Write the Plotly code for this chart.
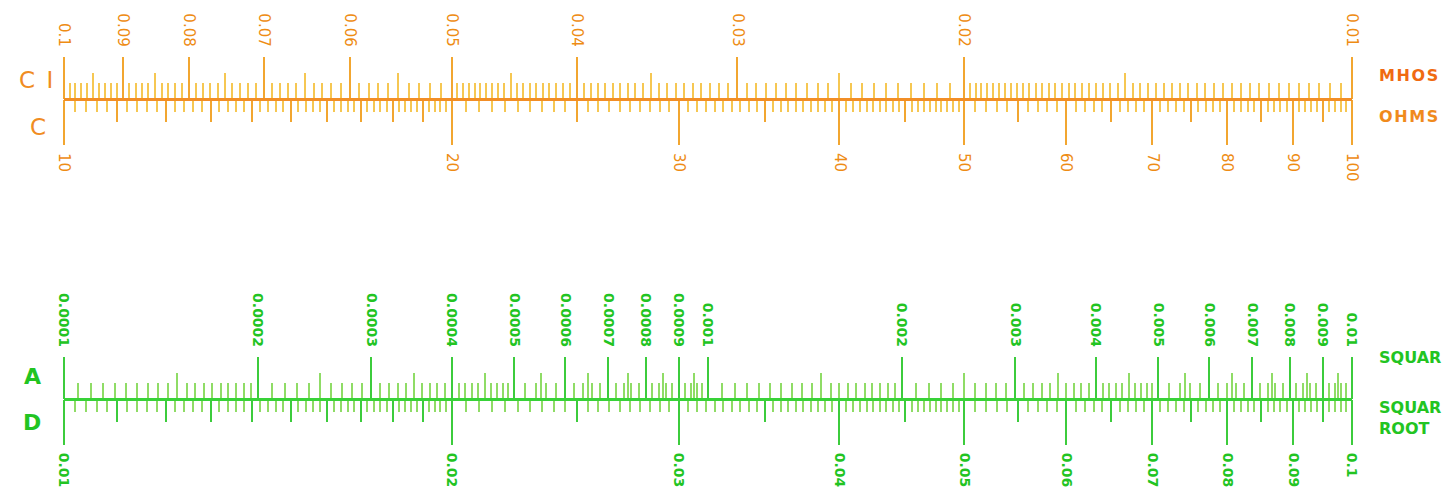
import numpy as np
import plotly.graph_objects as go

# scale labels (values written on the rule)
ci_vals = [0.1, 0.09, 0.08, 0.07, 0.06, 0.05, 0.04, 0.03, 0.02, 0.01]
ci_text = ["0.1", "0.09", "0.08", "0.07", "0.06", "0.05", "0.04", "0.03", "0.02", "0.01"]
c_vals = [10, 20, 30, 40, 50, 60, 70, 80, 90, 100]
c_text = ["10", "20", "30", "40", "50", "60", "70", "80", "90", "100"]
a_vals = [0.0001, 0.0002, 0.0003, 0.0004, 0.0005, 0.0006, 0.0007, 0.0008, 0.0009,
          0.001, 0.002, 0.003, 0.004, 0.005, 0.006, 0.007, 0.008, 0.009, 0.01]
a_text = ["0.0001", "0.0002", "0.0003", "0.0004", "0.0005", "0.0006", "0.0007", "0.0008", "0.0009",
          "0.001", "0.002", "0.003", "0.004", "0.005", "0.006", "0.007", "0.008", "0.009", "0.01"]
d_vals = [0.01, 0.02, 0.03, 0.04, 0.05, 0.06, 0.07, 0.08, 0.09, 0.1]
d_text = ["0.01", "0.02", "0.03", "0.04", "0.05", "0.06", "0.07", "0.08", "0.09", "0.1"]

# graduation steps: (from, to, step) on each scale
c_mid = [(10, 20, 1), (10, 100, 5)]
c_minor = [(10, 20, 0.2), (20, 50, 0.5), (50, 100, 1)]
ci_mid = [(0.1, 0.01, 0.005)]
ci_minor = [(0.1, 0.05, 0.001), (0.05, 0.02, 0.0005), (0.02, 0.01, 0.0002)]
a_mid = [(0.0001, 0.001, 0.00005), (0.001, 0.01, 0.0005)]
a_minor = [(0.0001, 0.0002, 0.000005), (0.0002, 0.0005, 0.00001), (0.0005, 0.001, 0.00002),
           (0.001, 0.002, 0.00005), (0.002, 0.005, 0.0001), (0.005, 0.01, 0.0002)]
d_mid = [(0.01, 0.02, 0.001), (0.01, 0.1, 0.005)]
d_minor = [(0.01, 0.02, 0.0002), (0.02, 0.05, 0.0005), (0.05, 0.1, 0.001)]

# page body has an 8px margin, so the figure is a bit smaller than the window
OFF = 8
W, H = 1440, 481
L, R = 64 - OFF, W + OFF - 1352
PW = W - L - R

ORANGE = "#f28e26"
ORANGE_TICK = "#f2a630"
ORANGE_MINOR = "#f6c752"
GREEN = "#38d238"
GREEN_TICK = "#3ccc3c"
GREEN_MINOR = "#8fdc66"


def py(y):
    return 1 - (y - OFF) / H


def px(x):
    return (x - OFF - L) / PW


TOP_Y = py(99)
BOT_Y = py(399)

fig = go.Figure()
layout = {}
n = [0]


def add_axis(lo, hi, full, pos, side, color, length, width, vals=None, text=None,
             step=None, font=None, line=None):
    n[0] += 1
    k = n[0]
    name = "xaxis" if k == 1 else "xaxis%d" % k
    ref = "x" if k == 1 else "x%d" % k
    f0, f1 = full
    span = np.log10(f1) - np.log10(f0)
    d0 = (np.log10(lo) - np.log10(f0)) / span
    d1 = (np.log10(hi) - np.log10(f0)) / span
    ax = dict(type="log", range=[np.log10(lo), np.log10(hi)], domain=[d0, d1],
              anchor="free", position=pos, side=side, showgrid=False, zeroline=False,
              ticks="outside", ticklen=length, tickwidth=width, tickcolor=color,
              fixedrange=True, automargin=False)
    if vals is not None:
        ax.update(tickmode="array", tickvals=vals, ticktext=text, tickangle=90,
                  tickfont=font, ticklabelstandoff=5)
    else:
        ax.update(tickmode="linear", tick0=min(lo, hi), dtick="L%g" % step,
                  showticklabels=False)
    if line:
        ax.update(showline=True, linecolor=line, linewidth=3)
    else:
        ax.update(showline=False)
    layout[name] = ax
    fig.add_trace(go.Scatter(x=[lo, hi], y=[0.5, 0.5], xaxis=ref, yaxis="y",
                             mode="markers", marker=dict(opacity=0),
                             hoverinfo="skip", showlegend=False))


orange_font = dict(family="DejaVu Sans", size=15, color="#ee8c14")
green_font = dict(family="DejaVu Sans", size=14, color="#22c422", weight="bold")

# top: CI above, C below
for lo, hi, st in ci_minor:
    add_axis(lo, hi, (0.1, 0.01), TOP_Y, "top", ORANGE_MINOR, 16, 1.5, step=st)
for lo, hi, st in ci_mid:
    add_axis(lo, hi, (0.1, 0.01), TOP_Y, "top", ORANGE_MINOR, 26, 1.5, step=st)
for lo, hi, st in c_minor:
    add_axis(lo, hi, (10, 100), TOP_Y, "bottom", ORANGE_MINOR, 12, 1.5, step=st)
for lo, hi, st in c_mid:
    add_axis(lo, hi, (10, 100), TOP_Y, "bottom", ORANGE_TICK, 22, 1.5, step=st)
add_axis(0.1, 0.01, (0.1, 0.01), TOP_Y, "top", ORANGE_TICK, 42, 2,
         vals=ci_vals, text=ci_text, font=orange_font)
add_axis(10, 100, (10, 100), TOP_Y, "bottom", ORANGE_TICK, 44, 2,
         vals=c_vals, text=c_text, font=orange_font, line=ORANGE)

# bottom: A above, D below
for lo, hi, st in a_minor:
    add_axis(lo, hi, (0.0001, 0.01), BOT_Y, "top", GREEN_MINOR, 16, 1.5, step=st)
for lo, hi, st in a_mid:
    add_axis(lo, hi, (0.0001, 0.01), BOT_Y, "top", GREEN_MINOR, 26, 1.5, step=st)
for lo, hi, st in d_minor:
    add_axis(lo, hi, (0.01, 0.1), BOT_Y, "bottom", GREEN_MINOR, 12, 1.5, step=st)
for lo, hi, st in d_mid:
    add_axis(lo, hi, (0.01, 0.1), BOT_Y, "bottom", GREEN_TICK, 22, 1.5, step=st)
add_axis(0.0001, 0.01, (0.0001, 0.01), BOT_Y, "top", GREEN_TICK, 42, 2,
         vals=a_vals, text=a_text, font=green_font)
add_axis(0.01, 0.1, (0.01, 0.1), BOT_Y, "bottom", GREEN_TICK, 44, 2,
         vals=d_vals, text=d_text, font=green_font, line=GREEN)

layout["yaxis"] = dict(range=[0, 1], visible=False, fixedrange=True)

notes = [
    ("C\u2002I", 36, 80, "#f08c22", 23, "normal"),
    ("C", 38, 127, "#f08c22", 23, "normal"),
    ("A", 32, 376, "#22c422", 22, "bold"),
    ("D", 32, 422, "#22c422", 22, "bold"),
]
for t, x, y, c, s, w in notes:
    fig.add_annotation(text=t, x=px(x), y=py(y), xref="paper", yref="paper",
                       showarrow=False, xanchor="center", yanchor="middle",
                       font=dict(family="DejaVu Sans", size=s, color=c, weight=w))

side_notes = [
    ("MHOS", 75, "#f06a12", "\u200a"),
    ("OHMS", 117, "#f08a1c", "\u200a"),
    ("SQUAR", 357, "#22c422", ""),
    ("SQUAR", 407, "#22c422", ""),
    ("ROOT", 428, "#22c422", ""),
]
for t, y, c, gap in side_notes:
    fig.add_annotation(text=gap.join(t), x=px(1377), y=py(y), xref="paper", yref="paper",
                       showarrow=False, xanchor="left", yanchor="middle",
                       font=dict(family="DejaVu Sans", size=16, color=c, weight="bold"))

fig.update_layout(**layout)
fig.update_layout(width=W, height=H, margin=dict(l=L, r=R, t=0, b=0),
                  paper_bgcolor="white", plot_bgcolor="rgba(0,0,0,0)", showlegend=False)
fig.write_html("out.html")
